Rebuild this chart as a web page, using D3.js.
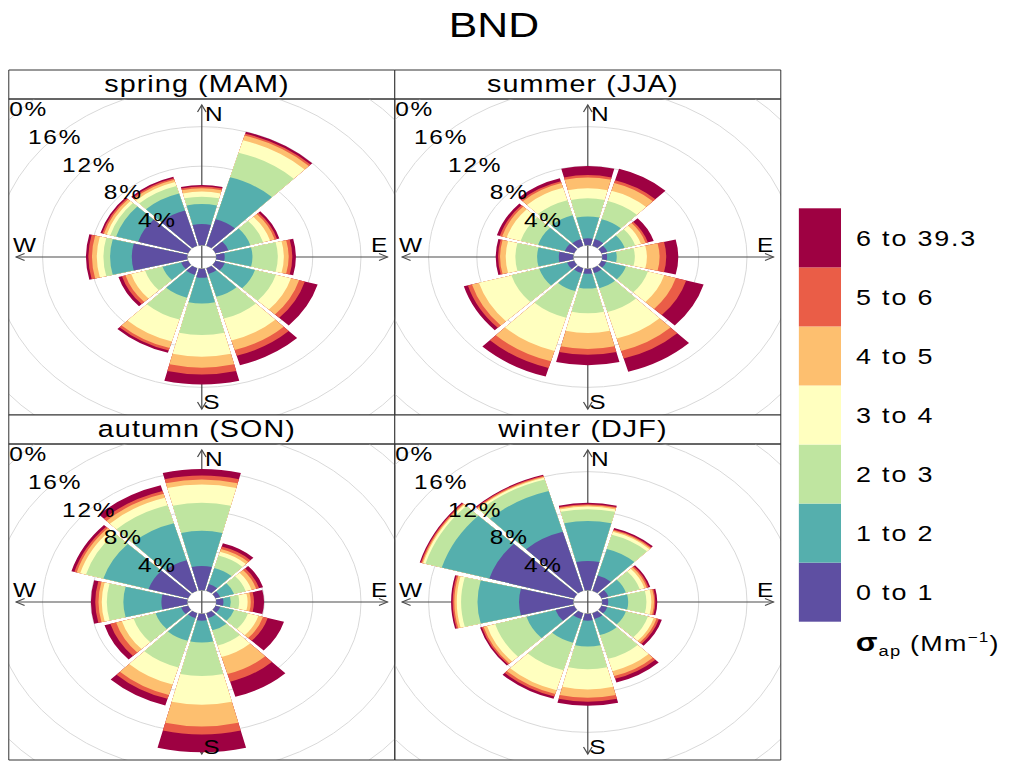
<!DOCTYPE html>
<html lang="en">
<head>
<meta charset="utf-8"/>
<title>BND</title>
<script src="https://cdn.jsdelivr.net/npm/d3@7"></script>
<style>
  html, body { margin: 0; padding: 0; background: #fff; }
  svg { display: block; }
  text { font-family: "Liberation Sans", Arial, Helvetica, sans-serif; fill: #000; }
</style>
</head>
<body>
<div id="rose"></div>
<script>
// panel names, wind sectors and concentration bins
const seasons = ["spring (MAM)", "summer (JJA)", "autumn (SON)", "winter (DJF)"];
const directions = [0, 30, 60, 90, 120, 150, 180, 210, 240, 270, 300, 330];
const binLabels = ["0 to 1", "1 to 2", "2 to 3", "3 to 4", "4 to 5", "5 to 6", "6 to 39.3"];
const binColors = ["#5E4FA2", "#55AFAD", "#BFE5A0", "#FFFFBF", "#FDBF6F", "#EA5D47", "#9E0142"];
const percentTicks = [4, 8, 12, 16, 20];

// frequency (%) per sector (rows, same order as directions) and bin (columns)
const springFreq = [
  [2.14, 2.03, 0.74, 0.51, 0.34, 0.17, 0.17],
  [2.8, 4.4, 2.6, 1.3, 0.5, 0.2, 0.2],
  [1.1, 1.9, 1.1, 0.6, 0.4, 0.2, 0.2],
  [0.7, 2.3, 2.1, 0.5, 0.4, 0.3, 0.3],
  [0.8, 2.6, 1.8, 1.3, 0.7, 0.5, 1.1],
  [0.6, 2.4, 2.3, 2.3, 1.0, 0.6, 1.0],
  [0.9, 2.6, 3.2, 2.2, 1.1, 0.7, 1.0],
  [0.7, 2.4, 2.3, 2.3, 0.7, 0.25, 0.25],
  [0.6, 1.6, 1.5, 1.2, 0.5, 0.3, 0.3],
  [4.6, 1.8, 0.55, 0.55, 0.4, 0.3, 0.2],
  [4.3, 1.9, 0.5, 0.3, 0.25, 0.15, 0.15],
  [3.7, 1.8, 0.8, 0.4, 0.25, 0.15, 0.15]
];
const summerFreq = [
  [0.7, 2.2, 1.85, 1.0, 1.1, 0.25, 0.9],
  [0.7, 2.1, 1.9, 1.1, 0.8, 0.3, 1.2],
  [0.5, 1.5, 0.9, 0.5, 0.4, 0.2, 0.5],
  [0.4, 0.8, 1.5, 1.0, 1.05, 0.55, 1.0],
  [0.4, 1.7, 1.9, 1.4, 1.0, 0.9, 1.5],
  [0.5, 1.6, 2.5, 2.8, 1.3, 0.8, 1.4],
  [0.5, 1.5, 2.5, 2.0, 1.6, 0.6, 1.05],
  [0.5, 1.9, 2.8, 3.5, 1.1, 0.7, 0.9],
  [0.6, 2.4, 2.4, 2.8, 0.6, 0.35, 0.35],
  [1.2, 1.8, 1.8, 0.8, 0.47, 0.16, 0.2],
  [0.8, 2.3, 1.5, 1.2, 0.4, 0.2, 0.25],
  [0.7, 2.5, 1.6, 1.3, 0.5, 0.2, 0.3]
];
const autumnFreq = [
  [2.45, 3.55, 2.85, 1.85, 0.5, 0.4, 0.65],
  [0.7, 1.7, 1.3, 0.4, 0.3, 0.25, 0.35],
  [0.4, 1.2, 1.0, 0.5, 0.4, 0.25, 0.35],
  [0.6, 0.6, 0.7, 0.7, 0.26, 0.27, 0.83],
  [0.4, 1.2, 1.2, 0.9, 0.4, 0.4, 1.4],
  [0.5, 1.3, 1.6, 1.2, 1.8, 0.8, 1.6],
  [0.7, 2.2, 3.4, 2.9, 2.2, 0.8, 1.8],
  [0.5, 2.4, 2.8, 1.8, 1.1, 0.4, 0.7],
  [0.6, 2.2, 1.9, 1.0, 0.5, 0.5, 0.5],
  [2.15, 3.15, 1.37, 0.42, 0.27, 0.27, 0.36],
  [3.4, 3.9, 1.5, 0.5, 0.3, 0.2, 0.25],
  [3.2, 3.9, 1.9, 0.8, 0.4, 0.3, 0.6]
];
const winterFreq = [
  [2.96, 4.04, 1.2, 0.26, 0.14, 0.1, 0.15],
  [1.6, 2.8, 1.5, 0.3, 0.15, 0.1, 0.15],
  [0.6, 1.5, 1.2, 0.4, 0.2, 0.15, 0.15],
  [0.5, 1.65, 1.51, 0.41, 0.22, 0.11, 0.16],
  [0.5, 1.6, 1.9, 0.5, 0.25, 0.2, 0.25],
  [0.6, 1.7, 2.5, 1.3, 0.5, 0.3, 0.4],
  [0.7, 2.6, 2.3, 2.05, 0.85, 0.4, 0.4],
  [0.6, 2.5, 2.9, 2.1, 0.4, 0.25, 0.25],
  [1.6, 2.5, 2.7, 0.7, 0.3, 0.15, 0.15],
  [4.5, 3.44, 1.36, 0.36, 0.2, 0.14, 0.13],
  [7.3, 4.1, 1.4, 0.2, 0.1, 0.1, 0.1],
  [6.2, 4.3, 1.2, 0.2, 0.1, 0.1, 0.1]
];
const seasonFreq = [springFreq, summerFreq, autumnFreq, winterFreq];

function pollutionRose() {
  // the original picture is square panels stretched sideways, so draw
  // square and let the viewBox do the stretching
  let svgWidth = 1010,
      svgHeight = 761,
      stretch = 1.2215,
      vbWidth = svgWidth / stretch;

  let panel = 316, stripH = 29, left = 7.2, top = 70;
  let axisMax = 16, offset = 1.2, arrowEnd = 15.4,
      sector = 30, inset = 0.8;
  let deg = Math.PI / 180;

  let svg = d3.select("#rose")
              .append("svg")
              .attr("width", svgWidth)
              .attr("height", svgHeight)
              .attr("viewBox", `0 0 ${vbWidth} ${svgHeight}`)
              .attr("preserveAspectRatio", "none");

  svg.append("text")
     .attr("x", 404.4)
     .attr("y", 37)
     .attr("text-anchor", "middle")
     .style("font-size", "35px")
     .text("BND");

  let defs = svg.append("defs");
  let arc = d3.arc().padRadius(100);

  seasons.forEach((name, i) => {
    let col = i % 2, row = Math.floor(i / 2);
    let px = left + col * panel,
        py = top + row * (stripH + panel),
        by = py + stripH;

    let x = d3.scaleLinear().domain([-axisMax, axisMax]).range([px, px + panel]),
        y = d3.scaleLinear().domain([-axisMax, axisMax]).range([by + panel, by]),
        r = d3.scaleLinear().domain([0, axisMax]).range([0, panel / 2]);

    // strip
    svg.append("rect")
       .attr("x", px).attr("y", py)
       .attr("width", panel).attr("height", stripH)
       .attr("fill", "#fff")
       .attr("stroke", "#333")
       .attr("vector-effect", "non-scaling-stroke");
    svg.append("text")
       .attr("x", px + panel / 2 - 4)
       .attr("y", py + 22)
       .attr("text-anchor", "middle")
       .style("font-size", "23.5px")
       .style("letter-spacing", "0.9px")
       .text(name);

    defs.append("clipPath").attr("id", `clip${i}`)
        .append("rect")
        .attr("x", px).attr("y", by)
        .attr("width", panel).attr("height", panel);

    let g = svg.append("g").attr("clip-path", `url(#clip${i})`);

    // grid circles
    g.selectAll("circle.grid")
     .data([0].concat(percentTicks))
     .join("circle")
     .attr("class", "grid")
     .attr("cx", x(0)).attr("cy", y(0))
     .attr("r", d => r(d + offset))
     .attr("fill", "none")
     .attr("stroke", "#d9d9d9")
     .attr("vector-effect", "non-scaling-stroke");

    // compass axes with open arrow heads at both ends
    let line = d3.line();
    let ah = 7, aw = 3.5;
    let axes = g.append("g")
                .attr("fill", "none")
                .attr("stroke", "#4d4d4d")
                .attr("stroke-width", 1);
    axes.append("path")
        .attr("d", line([[x(-arrowEnd), y(0)], [x(arrowEnd), y(0)]]));
    axes.append("path")
        .attr("d", line([[x(0), y(-arrowEnd)], [x(0), y(arrowEnd)]]));
    [[1, 0], [-1, 0], [0, 1], [0, -1]].forEach(([dx, dy]) => {
      let tx = x(dx * arrowEnd), ty = y(dy * arrowEnd);
      let ux = dx, uy = -dy;
      let pts = [
        [tx - ux * ah + uy * aw, ty - uy * ah - ux * aw],
        [tx, ty],
        [tx - ux * ah - uy * aw, ty - uy * ah + ux * aw]
      ];
      axes.append("path").attr("d", line(pts));
    });

    // stacked sectors, drawn outermost bin first
    let wedges = g.append("g").attr("transform", `translate(${x(0)},${y(0)})`);
    seasonFreq[i].forEach((bins, d) => {
      let dir = directions[d];
      let cum = d3.cumsum(bins);
      for (let b = bins.length - 1; b >= 0; b--) {
        wedges.append("path")
              .attr("d", arc({
                innerRadius: r(offset),
                outerRadius: r(offset + cum[b]),
                startAngle: (dir - sector / 2 + inset) * deg,
                endAngle: (dir + sector / 2 - inset) * deg,
                padAngle: 0.012
              }))
              .attr("fill", binColors[b]);
      }
    });

    // percentage labels along the north-west diagonal
    g.selectAll("text.pct")
     .data(percentTicks)
     .join("text")
     .attr("class", "pct")
     .attr("x", d => x(-(d + offset) * Math.SQRT1_2))
     .attr("y", d => y((d + offset) * Math.SQRT1_2))
     .attr("text-anchor", "middle")
     .attr("dominant-baseline", "central")
     .style("font-size", "20px")
     .style("letter-spacing", "1.5px")
     .text(d => d + "%");

    let compass = [
      {t: "N", cx: 1.0, cy: 14.5},
      {t: "E", cx: 14.7, cy: 1.2},
      {t: "S", cx: 0.8, cy: -14.7},
      {t: "W", cx: -14.7, cy: 1.2}
    ];
    g.selectAll("text.cmp")
     .data(compass)
     .join("text")
     .attr("class", "cmp")
     .attr("x", d => x(d.cx))
     .attr("y", d => y(d.cy))
     .attr("text-anchor", "middle")
     .attr("dominant-baseline", "central")
     .style("font-size", "20px")
     .text(d => d.t);

    // panel border
    svg.append("rect")
       .attr("x", px).attr("y", by)
       .attr("width", panel).attr("height", panel)
       .attr("fill", "none")
       .attr("stroke", "#333")
       .attr("vector-effect", "non-scaling-stroke");
  });

  // legend
  let ly = d3.scaleBand()
             .domain(binLabels.slice().reverse())
             .range([208.3, 621.7]);
  let legend = svg.append("g");
  legend.selectAll("rect")
        .data(binLabels)
        .join("rect")
        .attr("x", 654)
        .attr("y", d => ly(d))
        .attr("width", 34.5)
        .attr("height", ly.bandwidth())
        .attr("fill", (d, k) => binColors[k]);
  legend.selectAll("text")
        .data(binLabels)
        .join("text")
        .attr("x", 700.8)
        .attr("y", d => ly(d) + ly.bandwidth() / 2 + 8)
        .style("font-size", "22px")
        .style("letter-spacing", "1.5px")
        .text(d => d);

  let title = svg.append("text")
                 .attr("x", 700.5)
                 .attr("y", 651)
                 .style("font-size", "22px")
                 .style("letter-spacing", "1px");
  title.append("tspan").style("font-size", "26px").style("font-weight", "bold").text("σ");
  title.append("tspan").attr("dy", 5).style("font-size", "15px").text("ap");
  title.append("tspan").attr("dy", -5).text(" (Mm");
  title.append("tspan").attr("dy", -9).style("font-size", "14px").text("−1");
  title.append("tspan").attr("dy", 9).text(")");
}

pollutionRose();
</script>
</body>
</html>
